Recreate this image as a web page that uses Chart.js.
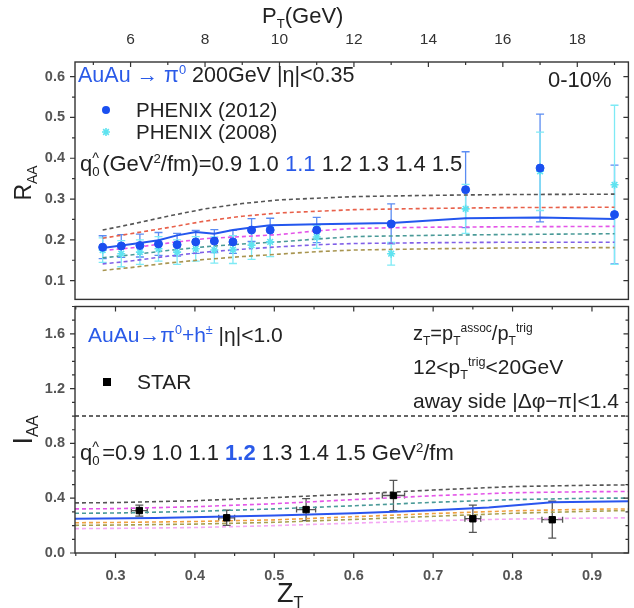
<!DOCTYPE html>
<html>
<head>
<meta charset="utf-8">
<script src="https://cdn.jsdelivr.net/npm/chart.js@4.4.1/dist/chart.umd.min.js"></script>
<style>
  body { margin: 0; background: #fff; font-family: "Liberation Sans", Arial, sans-serif; }
  #wrap { position: relative; width: 634px; height: 608px; overflow: hidden; }
  canvas { position: absolute; left: 0; }
  .t { position: absolute; white-space: nowrap; color: #222; line-height: 1; }
  .b { color: #2a5ae8; }
  sub, sup { font-size: 60%; line-height: 0; }
  .hq { display: inline-block; position: relative; width: 0.45em; height: 1em; vertical-align: -0.2em; }
  .hq .h { position: absolute; left: 0; top: -0.15em; font-size: 65%; }
  .hq .z { position: absolute; left: 0; bottom: -0.2em; font-size: 60%; }
  .rot { position: absolute; width: 90px; height: 30px; text-align: center; transform: rotate(-90deg); line-height: 30px; color: #222; }
</style>
</head>
<body>
<div id="wrap">
  <canvas id="top" width="634" height="305" style="top:0"></canvas>
  <canvas id="bot" width="634" height="307" style="top:301px"></canvas>

  <div class="t" style="left:262px;top:5px;font-size:22px">P<sub>T</sub>(GeV)</div>
  <div class="t" style="left:78px;top:65px;font-size:21.5px"><span class="b">AuAu &rarr; &pi;<sup>0</sup></span> 200GeV |&eta;|&lt;0.35</div>
  <div class="t" style="left:548px;top:69px;font-size:22px">0-10%</div>
  <div class="t" style="left:136px;top:100px;font-size:20.5px">PHENIX (2012)</div>
  <div class="t" style="left:136px;top:122px;font-size:20.5px">PHENIX (2008)</div>
  <div class="t" style="left:80px;top:153px;font-size:22px">q<span class="hq"><span class="h">^</span><span class="z">0</span></span>(GeV<sup>2</sup>/fm)=0.9 1.0 <span class="b">1.1</span> 1.2 1.3 1.4 1.5</div>
  <div class="rot" style="left:-22px;top:168px;font-size:23px">R<sub>AA</sub></div>

  <div class="t" style="left:88px;top:324px;font-size:21px"><span class="b">AuAu&rarr;&pi;<sup>0</sup>+h<sup>&plusmn;</sup></span> |&eta;|&lt;1.0</div>
  <div class="t" style="left:137px;top:371px;font-size:21px">STAR</div>
  <div class="t" style="left:413px;top:323px;font-size:20px">z<sub>T</sub>=p<sub>T</sub><sup>assoc</sup>/p<sub>T</sub><sup>trig</sup></div>
  <div class="t" style="left:413px;top:356px;font-size:21px">12&lt;p<sub>T</sub><sup>trig</sup>&lt;20GeV</div>
  <div class="t" style="left:413px;top:390px;font-size:21px">away side |&Delta;&phi;&minus;&pi;|&lt;1.4</div>
  <div class="t" style="left:80px;top:442px;font-size:22px">q<span class="hq"><span class="h">^</span><span class="z">0</span></span>=0.9 1.0 1.1 <b class="b">1.2</b> 1.3 1.4 1.5 GeV<sup>2</sup>/fm</div>
  <div class="rot" style="left:-22px;top:415px;font-size:27px">I<sub>AA</sub></div>
  <div class="t" style="left:277px;top:580px;font-size:27px">Z<sub>T</sub></div>
</div>

<script>
// ---- top panel: R_AA vs pT (PHENIX pi0, 0-10%) ----
const ptPhenix = [5.25, 5.75, 6.25, 6.75, 7.25, 7.75, 8.25, 8.75, 9.25, 9.75, 11, 13, 15, 17, 19];
const raa2012 = [0.182, 0.185, 0.186, 0.19, 0.188, 0.195, 0.197, 0.195, 0.224, 0.224, 0.224, 0.239, 0.323, 0.376, 0.262];
const raa2012Err = [0.028, 0.028, 0.028, 0.028, 0.028, 0.028, 0.028, 0.028, 0.028, 0.029, 0.031, 0.049, 0.093, 0.132, 0.121];
const raa2008 = [0.175, 0.166, 0.17, 0.178, 0.17, 0.178, 0.175, 0.176, 0.187, 0.195, 0.207, 0.166, 0.276, 0.368, 0.335];
const raa2008Err = [0.03, 0.032, 0.03, 0.03, 0.03, 0.03, 0.032, 0.034, 0.035, 0.036, 0.028, 0.028, 0.06, 0.096, 0.195];

const ptTheory = [5.25, 6, 7, 8, 9, 10, 11, 12, 14, 16, 19];
const raaQ09 = [0.224, 0.238, 0.258, 0.276, 0.289, 0.298, 0.302, 0.306, 0.309, 0.311, 0.312];
const raaQ10 = [0.204, 0.215, 0.23, 0.246, 0.258, 0.266, 0.27, 0.274, 0.277, 0.279, 0.28];
const raaQ12 = [0.174, 0.18, 0.192, 0.203, 0.208, 0.213, 0.222, 0.228, 0.231, 0.232, 0.233];
const raaQ13 = [0.156, 0.163, 0.174, 0.183, 0.19, 0.195, 0.202, 0.208, 0.211, 0.213, 0.215];
const raaQ14 = [0.141, 0.148, 0.16, 0.17, 0.177, 0.183, 0.188, 0.191, 0.193, 0.194, 0.194];
const raaQ15 = [0.125, 0.132, 0.143, 0.152, 0.159, 0.165, 0.171, 0.175, 0.178, 0.18, 0.181];
// best fit q0 = 1.1, solid line
const raaQ11 = [0.18, 0.186, 0.192, 0.199, 0.211, 0.219, 0.215, 0.224, 0.23, 0.236, 0.238, 0.241, 0.253, 0.255, 0.251];

// ---- bottom panel: I_AA vs zT (STAR, away side) ----
const zStar = [0.33, 0.44, 0.54, 0.65, 0.75, 0.85];
const iaaStar = [0.31, 0.257, 0.317, 0.42, 0.25, 0.243];
const iaaStarErr = [0.04, 0.055, 0.08, 0.11, 0.1, 0.135];
const zStarErr = [0.01, 0.01, 0.012, 0.014, 0.01, 0.013];

const zTheory = [0.249, 0.3, 0.4, 0.5, 0.6, 0.7, 0.8, 0.9, 0.946];
const iaaQ09 = [0.366, 0.368, 0.382, 0.405, 0.43, 0.46, 0.485, 0.495, 0.497];
const iaaQ10 = [0.322, 0.324, 0.338, 0.36, 0.39, 0.418, 0.44, 0.448, 0.449];
const iaaQ11 = [0.29, 0.292, 0.304, 0.322, 0.345, 0.37, 0.39, 0.4, 0.401];
const iaaQ13 = [0.221, 0.223, 0.23, 0.242, 0.265, 0.288, 0.308, 0.32, 0.322];
const iaaQ14 = [0.202, 0.204, 0.211, 0.224, 0.245, 0.268, 0.29, 0.305, 0.31];
const iaaQ15 = [0.178, 0.18, 0.186, 0.2, 0.218, 0.236, 0.248, 0.255, 0.257];
// best fit q0 = 1.2, solid line
const zBest = [0.249, 0.35, 0.5, 0.6, 0.7, 0.77, 0.85, 0.946];
const iaaQ12 = [0.25, 0.256, 0.274, 0.29, 0.312, 0.333, 0.37, 0.377];

const pts = (xs, ys) => xs.map((x, i) => ({ x: x, y: ys[i] }));

const tickFont = { family: "Liberation Sans", size: 14.5, weight: "bold" };

function dashed(data, color, xa, ya) {
  return { data: data, borderColor: color, borderWidth: 1.6, borderDash: [4, 3], pointRadius: 0,
           fill: false, tension: 0, xAxisID: xa, yAxisID: ya };
}

// keep the plot box exactly where we want it (no extra room for end labels)
function fixY(w) {
  return (s) => { s.width = w; s.paddingTop = 0; s.paddingBottom = 0; };
}
function fixX(h) {
  return (s) => { s.height = h; s.paddingLeft = 0; s.paddingRight = 0; };
}

// error bars, drawn before the markers
const errorBars = {
  id: "errorBars",
  beforeDatasetsDraw(chart) {
    const ctx = chart.ctx;
    chart.data.datasets.forEach((ds) => {
      if (!ds.yErr) return;
      const xs = chart.scales[ds.xAxisID], ys = chart.scales[ds.yAxisID];
      ctx.save();
      ctx.strokeStyle = ds.errColor;
      ctx.lineWidth = 1.3;
      ds.data.forEach((p, j) => {
        const px = xs.getPixelForValue(p.x);
        const t = ys.getPixelForValue(p.y + ds.yErr[j]);
        const b = ys.getPixelForValue(p.y - ds.yErr[j]);
        ctx.beginPath();
        ctx.moveTo(px, t); ctx.lineTo(px, b);
        ctx.moveTo(px - 4, t); ctx.lineTo(px + 4, t);
        ctx.moveTo(px - 4, b); ctx.lineTo(px + 4, b);
        if (ds.xErr) {
          const l = xs.getPixelForValue(p.x - ds.xErr[j]);
          const r = xs.getPixelForValue(p.x + ds.xErr[j]);
          const py = ys.getPixelForValue(p.y);
          ctx.moveTo(l, py); ctx.lineTo(r, py);
          ctx.moveTo(l, py - 3); ctx.lineTo(l, py + 3);
          ctx.moveTo(r, py - 3); ctx.lineTo(r, py + 3);
        }
        ctx.stroke();
      });
      ctx.restore();
    });
  }
};

// frame box + tick marks (major longer than minor) + legend markers
const frame = {
  id: "frame",
  afterDraw(chart, args, opts) {
    const ctx = chart.ctx, a = chart.chartArea;
    ctx.save();
    ctx.strokeStyle = "#333";
    ctx.lineWidth = 1.4;
    ctx.strokeRect(a.left, a.top, a.right - a.left, a.bottom - a.top);
    ctx.lineWidth = 1.2;
    ctx.beginPath();
    const ys = chart.scales[opts.y], xs = chart.scales[opts.x];
    ys.ticks.forEach((t) => {
      const py = ys.getPixelForValue(t.value);
      const len = t.label !== "" ? 5 : 3;
      ctx.moveTo(a.left, py); ctx.lineTo(a.left - len, py);
      ctx.moveTo(a.right, py); ctx.lineTo(a.right - len, py);
    });
    xs.ticks.forEach((t) => {
      const px = xs.getPixelForValue(t.value);
      const len = t.label !== "" ? 5 : 3;
      if (opts.xTop) {
        ctx.moveTo(px, a.top); ctx.lineTo(px, a.top + len);
      } else {
        ctx.moveTo(px, a.bottom); ctx.lineTo(px, a.bottom + len);
        ctx.moveTo(px, a.top); ctx.lineTo(px, a.top + len);
      }
    });
    ctx.stroke();
    (opts.markers || []).forEach((m) => {
      ctx.fillStyle = m.color; ctx.strokeStyle = m.color;
      ctx.beginPath();
      if (m.kind === "circle") { ctx.arc(m.x, m.y, 4, 0, Math.PI * 2); ctx.fill(); }
      else if (m.kind === "rect") { ctx.fillRect(m.x - 4, m.y - 4, 8, 8); }
      else {
        ctx.lineWidth = 1.6;
        for (let k = 0; k < 4; k++) {
          const ang = k * Math.PI / 4;
          ctx.moveTo(m.x - 4 * Math.cos(ang), m.y - 4 * Math.sin(ang));
          ctx.lineTo(m.x + 4 * Math.cos(ang), m.y + 4 * Math.sin(ang));
        }
        ctx.stroke();
      }
    });
    ctx.restore();
  }
};

new Chart(document.getElementById("top"), {
  type: "line",
  data: {
    datasets: [
      { data: pts(ptPhenix, raa2012), yErr: raa2012Err, errColor: "#5b8cf2", showLine: false,
        pointStyle: "circle", pointRadius: 4, backgroundColor: "#1a4ff0", borderColor: "#1a4ff0",
        xAxisID: "xt", yAxisID: "yr" },
      { data: pts(ptPhenix, raa2008), yErr: raa2008Err, errColor: "#7eeaf5", showLine: false,
        pointStyle: "star", pointRadius: 4, borderWidth: 1.6, backgroundColor: "#5fe3f0", borderColor: "#5fe3f0",
        xAxisID: "xt", yAxisID: "yr" },
      { data: pts(ptPhenix, raaQ11), borderColor: "#2457ee", borderWidth: 2, pointRadius: 0, tension: 0,
        xAxisID: "xt", yAxisID: "yr" },
      dashed(pts(ptTheory, raaQ09), "#555555", "xt", "yr"),
      dashed(pts(ptTheory, raaQ10), "#e8604a", "xt", "yr"),
      dashed(pts(ptTheory, raaQ12), "#e455e8", "xt", "yr"),
      dashed(pts(ptTheory, raaQ13), "#4a9a98", "xt", "yr"),
      dashed(pts(ptTheory, raaQ14), "#8060e8", "xt", "yr"),
      dashed(pts(ptTheory, raaQ15), "#a89550", "xt", "yr")
    ]
  },
  options: {
    responsive: false,
    animation: false,
    layout: { padding: { left: 0, right: 2, top: 0, bottom: 2 } },
    plugins: {
      legend: { display: false },
      tooltip: { enabled: false },
      frame: { x: "xt", y: "yr", xTop: true,
               markers: [{ kind: "circle", x: 106, y: 110, color: "#1a4ff0" },
                         { kind: "star", x: 106, y: 132, color: "#5fe3f0" }] }
    },
    scales: {
      xt: {
        type: "linear", position: "top", min: 4.507, max: 19.373,
        afterFit: fixX(62),
        grid: { display: false, drawTicks: false }, border: { display: false },
        ticks: { stepSize: 1, includeBounds: false, autoSkip: false, maxRotation: 0, padding: 13,
                 color: "#333", font: { family: "Liberation Sans", size: 15.5 },
                 callback: (v) => (v % 2 === 0 ? String(v) : "") }
      },
      yr: {
        type: "linear", position: "left", min: 0.054, max: 0.636,
        afterFit: fixY(75),
        grid: { display: false, drawTicks: false }, border: { display: false },
        ticks: { stepSize: 0.05, includeBounds: false, autoSkip: false, padding: 10,
                 color: "#555", font: tickFont,
                 callback: (v) => (Math.abs(v * 10 - Math.round(v * 10)) < 1e-6 ? v.toFixed(1) : "") }
      }
    }
  },
  plugins: [errorBars, frame]
});

new Chart(document.getElementById("bot"), {
  type: "line",
  data: {
    datasets: [
      { data: pts(zStar, iaaStar), yErr: iaaStarErr, xErr: zStarErr, errColor: "#555", showLine: false,
        pointStyle: "rect", pointRadius: 4.5, backgroundColor: "#000", borderColor: "#000",
        xAxisID: "xb", yAxisID: "yi" },
      { data: pts(zBest, iaaQ12), borderColor: "#2a55ee", borderWidth: 2, pointRadius: 0, tension: 0,
        xAxisID: "xb", yAxisID: "yi" },
      dashed([{ x: 0.249, y: 1 }, { x: 0.946, y: 1 }], "#333333", "xb", "yi"),
      dashed(pts(zTheory, iaaQ09), "#555555", "xb", "yi"),
      dashed(pts(zTheory, iaaQ10), "#e455e8", "xb", "yi"),
      dashed(pts(zTheory, iaaQ11), "#4a9a98", "xb", "yi"),
      dashed(pts(zTheory, iaaQ13), "#f0a040", "xb", "yi"),
      dashed(pts(zTheory, iaaQ14), "#a8a050", "xb", "yi"),
      dashed(pts(zTheory, iaaQ15), "#f4a8f4", "xb", "yi")
    ]
  },
  options: {
    responsive: false,
    animation: false,
    layout: { padding: { left: 0, right: 2, top: 2, bottom: 0 } },
    plugins: {
      legend: { display: false },
      tooltip: { enabled: false },
      frame: { x: "xb", y: "yi", xTop: false,
               markers: [{ kind: "rect", x: 107, y: 81, color: "#000" }] }
    },
    scales: {
      xb: {
        type: "linear", position: "bottom", min: 0.249, max: 0.946,
        afterFit: fixX(55),
        grid: { display: false, drawTicks: false }, border: { display: false },
        ticks: { stepSize: 0.05, includeBounds: false, autoSkip: false, maxRotation: 0, padding: 14,
                 color: "#555", font: tickFont,
                 callback: (v) => (Math.abs(v * 10 - Math.round(v * 10)) < 1e-6 ? v.toFixed(1) : "") }
      },
      yi: {
        type: "linear", position: "left", min: 0, max: 1.8,
        afterFit: fixY(75),
        grid: { display: false, drawTicks: false }, border: { display: false },
        ticks: { stepSize: 0.1, includeBounds: false, autoSkip: false, padding: 10,
                 color: "#555", font: tickFont,
                 callback: (v) => (Math.abs(v / 0.4 - Math.round(v / 0.4)) < 1e-6 ? v.toFixed(1) : "") }
      }
    }
  },
  plugins: [errorBars, frame]
});
</script>
</body>
</html>
